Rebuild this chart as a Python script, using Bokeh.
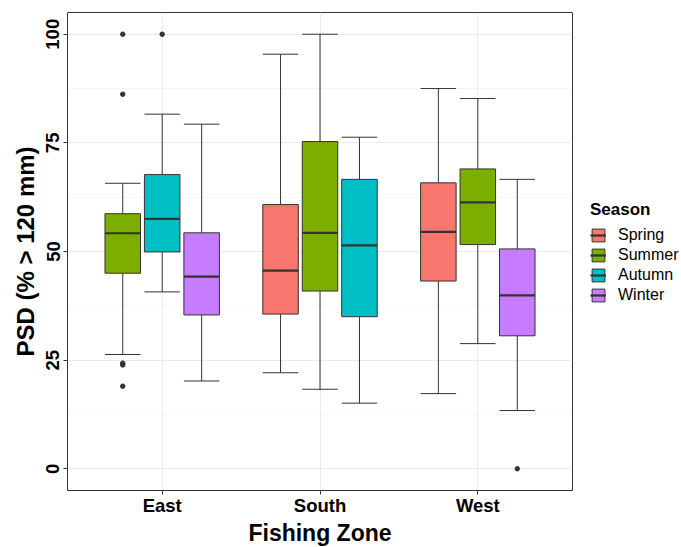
from bokeh.plotting import figure
from bokeh.models import (Range1d, FixedTicker, Legend, LegendItem,
                          ColumnDataSource)
from bokeh.embed import file_html
from bokeh.resources import INLINE

# ---------------- data ----------------
zones = ["East", "South", "West"]
seasons = ["Spring", "Summer", "Autumn", "Winter"]
season_colors = ["#F8766D", "#7CAE00", "#00BFC4", "#C77CFF"]

box_zone = ["East", "East", "East", "South", "South", "South", "West", "West", "West"]
box_season = ["Summer", "Autumn", "Winter", "Spring", "Summer", "Autumn", "Spring", "Summer", "Winter"]
lower_whisker = [26.3, 40.7, 20.2, 22.1, 18.3, 15.1, 17.3, 28.8, 13.4]
q1 = [45.0, 49.9, 35.4, 35.6, 40.9, 35.0, 43.2, 51.6, 30.6]
median = [54.2, 57.5, 44.2, 45.6, 54.3, 51.4, 54.5, 61.3, 39.9]
q3 = [58.7, 67.7, 54.3, 60.8, 75.3, 66.6, 65.8, 69.0, 50.6]
upper_whisker = [65.7, 81.6, 79.3, 95.4, 100.0, 76.3, 87.5, 85.2, 66.6]

outlier_zone = ["East", "East", "East", "East", "East", "East", "West"]
outlier_season = ["Summer", "Summer", "Summer", "Summer", "Summer", "Autumn", "Winter"]
outlier_value = [100.0, 86.2, 24.3, 23.9, 19.0, 100.0, 0.0]

y_ticks = [0, 25, 50, 75, 100]
y_minor = [12.5, 37.5, 62.5, 87.5]

# ---------------- dodge layout (like ggplot's dodge2) ----------------
DODGE = 0.75
PAD = 0.1


def box_position(zone, season):
    present = [s for s in seasons
               if any(z == zone and bs == s for z, bs in zip(box_zone, box_season))]
    n = len(present)
    slot = present.index(season)
    step = DODGE / n
    return zones.index(zone) + 1 + (slot - (n - 1) / 2) * step, step * (1 - PAD)


FONT = "Liberation Sans"
DARK = "#333333"

p = figure(frame_width=505, frame_height=478, output_backend="svg", toolbar_location=None,
           x_range=Range1d(0.4, 3.6), y_range=Range1d(-5, 105),
           min_border_left=67, min_border_right=109, min_border_top=12,
           min_border_bottom=0)
p.background_fill_color = "white"
p.border_fill_color = "white"
p.outline_line_color = DARK
p.outline_line_width = 1

# grids
p.xgrid.ticker = FixedTicker(ticks=[1, 2, 3])
p.ygrid.ticker = FixedTicker(ticks=y_ticks, minor_ticks=y_minor)
for g in (p.xgrid, p.ygrid):
    g.grid_line_color = "#EBEBEB"
    g.grid_line_width = 1
p.ygrid.minor_grid_line_color = "#EFEFEF"
p.ygrid.minor_grid_line_width = 0.6

# axes
p.xaxis.ticker = FixedTicker(ticks=[1, 2, 3])
p.xaxis.major_label_overrides = {i + 1: z for i, z in enumerate(zones)}
p.yaxis.ticker = FixedTicker(ticks=y_ticks, minor_ticks=y_minor)
p.yaxis.major_label_orientation = "vertical"
for ax in (p.xaxis, p.yaxis):
    ax.axis_line_color = None
    ax.major_tick_line_color = DARK
    ax.major_tick_out = 4
    ax.major_tick_in = 0
    ax.minor_tick_line_color = None
    ax.major_label_text_font = FONT
    ax.major_label_text_font_style = "bold"
    ax.major_label_text_color = "black"
    ax.axis_label_text_font = FONT
    ax.axis_label_text_font_style = "bold"
    ax.axis_label_text_color = "black"
p.xaxis.major_label_text_font_size = "18.5px"
p.yaxis.major_label_text_font_size = "18.5px"
p.xaxis.major_label_standoff = 0
p.yaxis.major_label_standoff = 4
p.yaxis.axis_label = "PSD (% > 120 mm)"
p.yaxis.axis_label_text_font_size = "24px"
p.yaxis.axis_label_standoff = 5
p.xaxis.axis_label = "Fishing Zone"
p.xaxis.axis_label_text_font_size = "23px"
p.xaxis.axis_label_standoff = 1

# boxes, one set of renderers per season
legend_items = []
for season, color in zip(seasons, season_colors):
    idx = [i for i, s in enumerate(box_season) if s == season]
    xs, ws = [], []
    for i in idx:
        x, w = box_position(box_zone[i], season)
        xs.append(x)
        ws.append(w)
    src = ColumnDataSource(dict(
        x=xs,
        left=[x - w / 2 for x, w in zip(xs, ws)],
        right=[x + w / 2 for x, w in zip(xs, ws)],
        lw=[lower_whisker[i] for i in idx],
        q1=[q1[i] for i in idx],
        med=[median[i] for i in idx],
        q3=[q3[i] for i in idx],
        uw=[upper_whisker[i] for i in idx],
    ))
    # caps (errorbar)
    p.segment("left", "uw", "right", "uw", source=src, line_color=DARK, line_width=1)
    p.segment("left", "lw", "right", "lw", source=src, line_color=DARK, line_width=1)
    # whiskers
    p.segment("x", "q3", "x", "uw", source=src, line_color=DARK, line_width=1)
    p.segment("x", "lw", "x", "q1", source=src, line_color=DARK, line_width=1)
    # box
    box_r = p.quad(left="left", right="right", bottom="q1", top="q3", source=src,
                   fill_color=color, line_color=DARK, line_width=1)
    # median
    med_r = p.segment("left", "med", "right", "med", source=src, line_color=DARK,
                      line_width=2.2)
    # outliers
    oidx = [i for i, s in enumerate(outlier_season) if s == season]
    if oidx:
        ox = [box_position(outlier_zone[i], season)[0] for i in oidx]
        oy = [outlier_value[i] for i in oidx]
        p.scatter(ox, oy, size=4.5, color=DARK)
    legend_items.append(LegendItem(label=season, renderers=[box_r, med_r]))

legend = Legend(items=legend_items, title="Season", location=(18, 186))
legend.title_text_font = FONT
legend.title_text_font_style = "bold"
legend.title_text_font_size = "17px"
legend.title_text_color = "black"
legend.title_standoff = 6
legend.label_text_font = FONT
legend.label_text_font_size = "16px"
legend.label_text_color = "black"
legend.glyph_width = 16
legend.glyph_height = 16
legend.label_height = 16
legend.label_standoff = 12
legend.spacing = 2
legend.padding = 0
legend.margin = 0
legend.border_line_alpha = 0
legend.background_fill_alpha = 0
p.add_layout(legend, "right")

open("out.html", "w").write(file_html(p, INLINE))
